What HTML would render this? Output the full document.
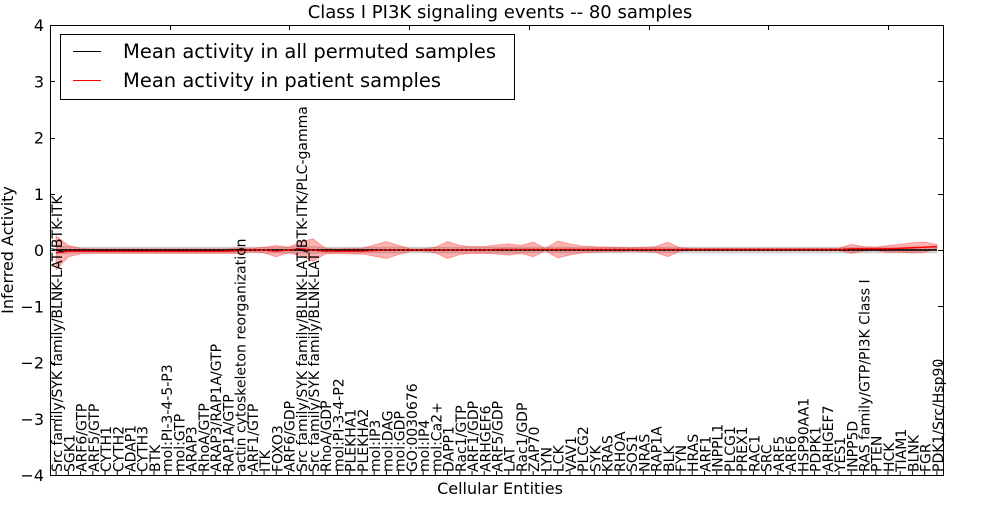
<!DOCTYPE html>
<html><head><meta charset="utf-8"><style>
body{margin:0;background:#fff;font-family:"Liberation Sans","DejaVu Sans",sans-serif}
svg text{font-family:"DejaVu Sans","Liberation Sans",sans-serif}
</style></head><body>
<svg id="chart" width="1000" height="500" xmlns="http://www.w3.org/2000/svg">
<rect width="1000" height="500" fill="#fff"/>
<text x="500" y="18" font-size="18" text-anchor="middle">Class I PI3K signaling events -- 80 samples</text>
<g id="bands"></g>
<g id="lines"></g>
<rect x="50.5" y="25.5" width="893" height="450" fill="none" stroke="#000" stroke-width="1"/>
<g id="yaxis"></g>
<g id="xaxis"></g>
<text transform="translate(13,250) rotate(-90)" font-size="16" text-anchor="middle">Inferred Activity</text>
<text x="500" y="494" font-size="16" text-anchor="middle">Cellular Entities</text>
<g>
<rect x="60.5" y="34.5" width="454" height="65" fill="#fff" stroke="#000" stroke-width="1"/>
<line x1="73" y1="51.5" x2="101" y2="51.5" stroke="#000" stroke-width="1"/>
<text x="123" y="58" font-size="19.5">Mean activity in all permuted samples</text>
<line x1="73" y1="80.5" x2="101" y2="80.5" stroke="#f00" stroke-width="1"/>
<text x="123" y="87" font-size="19.5">Mean activity in patient samples</text>
</g>
</svg>
<script>
const categories=["Src family/SYK family/BLNK-LAT/BTK-ITK","SGK1","ARF6/GTP","ARF5/GTP","CYTH1","CYTH2","ADAP1","CYTH3","BTK","mol:PI-3-4-5-P3","mol:GTP","ARAP3","RhoA/GTP","ARAP3/RAP1A/GTP","RAP1A/GTP","actin cytoskeleton reorganization","ARF1/GTP","ITK","FOXO3","ARF6/GDP","Src family/SYK family/BLNK-LAT/BTK-ITK/PLC-gamma","Src family/SYK family/BLNK-LAT","RhoA/GDP","mol:PI-3-4-P2","PLEKHA1","PLEKHA2","mol:IP3","mol:DAG","mol:GDP","GO:0030676","mol:IP4","mol:Ca2+","DAPP1","Rac1/GTP","ARF1/GDP","ARHGEF6","ARF5/GDP","LAT","Rac1/GDP","ZAP70","LYN","LCK","VAV1","PLCG2","SYK","KRAS","RHOA","SOS1","NRAS","RAP1A","BLK","FYN","HRAS","ARF1","INPPL1","PLCG1","PREX1","RAC1","SRC","ARF5","ARF6","HSP90AA1","PDPK1","ARHGEF7","YES1","INPP5D","RAS family/GTP/PI3K Class I","PTEN","HCK","TIAM1","BLNK","FGR","PDK1/Src/Hsp90"];
const patientMean=[-0.05,-0.02,-0.02,-0.02,-0.02,-0.02,-0.02,-0.02,-0.02,-0.02,-0.02,-0.02,-0.02,-0.02,-0.02,-0.01,0,0,-0.02,0,0.02,0,-0.02,-0.02,-0.02,-0.02,-0.01,0,0,0,0,0,0,0,0,0,0.01,0.01,0.01,0.01,0.01,0.01,0.01,0.01,0.01,0.01,0.01,0.01,0.01,0.01,0.01,0.01,0.01,0.01,0.01,0.01,0.01,0.01,0.01,0.01,0.01,0.01,0.01,0.01,0.01,0.02,0.02,0.02,0.02,0.03,0.04,0.05,0.06];
const patientStd=[0.3,0.1,0.05,0.04,0.04,0.04,0.04,0.04,0.04,0.04,0.04,0.04,0.04,0.04,0.04,0.05,0.03,0.05,0.1,0.05,0.12,0.2,0.05,0.04,0.05,0.05,0.1,0.15,0.08,0.02,0.02,0.05,0.15,0.08,0.06,0.06,0.08,0.1,0.07,0.13,0.02,0.15,0.1,0.06,0.05,0.04,0.04,0.03,0.04,0.05,0.13,0.03,0.02,0.02,0.02,0.02,0.02,0.02,0.02,0.02,0.02,0.02,0.02,0.02,0.02,0.08,0.04,0.03,0.06,0.07,0.09,0.09,0.04];
const permMean=[0,0,0,0,0,0,0,0,0,0,0,0,0,0,0,0,0,0,0,0,0,0,0,0,0,0,0,0,0,0,0,0,0,0,0,0,0,0,0,0,0,0,0,0,0,0,0,0,0,0,0,0,0,0,0,0,0,0,0,0,0,0,0,0,0,0,0,0,0,0,0,0,0];
const permStd=[0.06,0.06,0.05,0.05,0.05,0.05,0.05,0.05,0.05,0.05,0.05,0.05,0.05,0.05,0.05,0.05,0.05,0.05,0.05,0.05,0.06,0.06,0.05,0.05,0.05,0.05,0.05,0.05,0.05,0.05,0.05,0.05,0.05,0.05,0.05,0.05,0.05,0.05,0.05,0.05,0.05,0.05,0.05,0.05,0.05,0.05,0.05,0.05,0.05,0.05,0.05,0.05,0.05,0.05,0.05,0.05,0.05,0.05,0.05,0.05,0.05,0.05,0.05,0.05,0.05,0.05,0.05,0.05,0.05,0.05,0.05,0.05,0.05];
const yTicks=[4,3,2,1,0,-1,-2,-3,-4];
const NS="http://www.w3.org/2000/svg";
const L=50,R=943,T=25,B=475;
const n=categories.length;
function x(i){return L+(i+0.5)*(R-L)/n;}
function y(v){return T+(4-v)*(B-T)/8;}
function mk(tag,attrs,parent){const e=document.createElementNS(NS,tag);for(const k in attrs)e.setAttribute(k,attrs[k]);parent.appendChild(e);return e;}
const bands=document.getElementById('bands'),lines=document.getElementById('lines');
function band(mean,std,fill,op,name){
  let pts=[];for(let i=0;i<n;i++)pts.push(x(i)+','+y(mean[i]+std[i]));
  for(let i=n-1;i>=0;i--)pts.push(x(i)+','+y(mean[i]-std[i]));
  const p=mk('polygon',{points:pts.join(' '),fill:fill,'fill-opacity':op,stroke:fill,'stroke-opacity':op},bands);
  
  
}
band(permMean,permStd,'#999',0.35,'permuted-std-band');
band(patientMean,patientStd,'#f00',0.3,'patient-std-band');
function line(vals,color,name,dash){
  const p=mk('polyline',{points:vals.map((v,i)=>x(i)+','+y(v)).join(' '),fill:'none',stroke:color,'stroke-width':1.5},lines);
  if(dash)p.setAttribute('stroke-dasharray','1.5,3');
  
  
}
line(permMean,'#000','permuted-mean-line');
line(patientMean,'#f00','patient-mean-line');
line(permMean,'#000','zero-dotted-line',true);
const ya=document.getElementById('yaxis');
yTicks.forEach(v=>{
  const yy=Math.round(y(v))+0.5;
  const l1=mk('line',{x1:L,x2:L+5,y1:yy,y2:yy,stroke:'#000'},ya);
  
  
  mk('line',{x1:R-5,x2:R,y1:yy,y2:yy,stroke:'#000'},ya);
  const t=mk('text',{x:L-6,y:y(v)+6,'font-size':16,'text-anchor':'end'},ya);
  t.textContent=(v<0?'\u2212'+(-v):v);
  
  
});
const xa=document.getElementById('xaxis');
for(let k=1;k<8;k++){const xx=Math.round(L+k*119.7)+0.5;mk('line',{x1:xx,x2:xx,y1:T,y2:T+5,stroke:'#000'},xa);}
categories.forEach((c,i)=>{
  const xx=x(i);
  mk('line',{x1:xx,x2:xx,y1:B,y2:B-4,stroke:'#000'},xa);
  const t=mk('text',{transform:`translate(${xx+6},${B-3}) rotate(-90)`,'font-size':14},xa);
  t.textContent=c;
  
  
});
</script>
</body></html>
